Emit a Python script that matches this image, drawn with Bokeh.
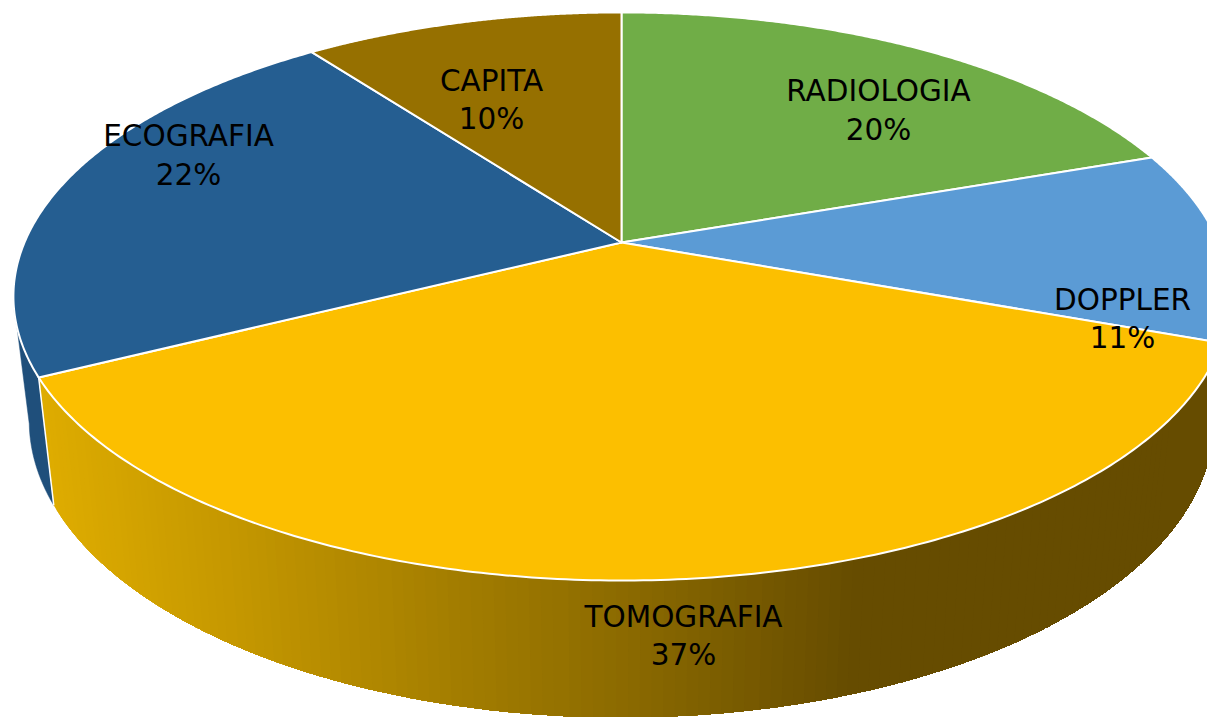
import numpy as np
from bokeh.plotting import figure
from bokeh.models import Range1d, ColumnDataSource
from bokeh.core.properties import value
from bokeh.embed import file_html
from bokeh.resources import INLINE

# Data, clockwise from twelve o'clock
categories = ["RADIOLOGIA", "DOPPLER", "TOMOGRAFIA", "ECOGRAFIA", "CAPITA"]
shares = [19.65, 10.92, 36.99, 22.24, 10.20]
top_colors = ["#70ad47", "#5b9bd5", "#fcbf00", "#255e91", "#967000"]
label_x = [878, 1122, 683, 188, 491]
label_y = [90, 299, 616, 135, 80]
percent_y = [129, 337, 654, 174, 118]

# Perspective of the tilted disc, in the picture's pixels
CX, CY = 621.0, 242.0
KX, KY, TILT = 597.0, 273.8, 0.19
WALL_SCALE_X = 0.974
WALL_OFFSET_Y, WALL_SCALE_Y = 111.4, 1.044
W, H = 1207, 717


def project(theta):
    xd, yd = np.sin(theta), np.cos(theta)
    d = 1 + TILT * yd
    return CX + KX * xd / d, CY - KY * yd / d


def project_low(theta):
    x, y = project(theta)
    return CX + (x - CX) * WALL_SCALE_X, WALL_OFFSET_Y + y * WALL_SCALE_Y


GRAD_X = [38, 200, 450, 620, 850, 1207]
GRAD_R = [222, 200, 163, 139, 102, 102]
GRAD_G = [172, 154, 125, 106, 76, 76]


def wall_color(x):
    return "#%02x%02x00" % (round(np.interp(x, GRAD_X, GRAD_R)), round(np.interp(x, GRAD_X, GRAD_G)))


edges = np.radians(np.concatenate([[0], np.cumsum(shares)]) * 3.6)

p = figure(width=W, height=H, output_backend="svg", toolbar_location=None,
           x_range=Range1d(0, W), y_range=Range1d(H, 0),
           min_border=0, outline_line_color=None, background_fill_color="white")
p.axis.visible = False
p.grid.visible = False

# Side wall of the Ecografia slice (visible up to the left tip)
eco = np.linspace(edges[3], np.radians(258.5), 40)
tx, ty = project(eco)
lx, ly = project_low(eco)
p.patch(np.r_[tx, lx[::-1]], np.r_[ty, ly[::-1]], fill_color="#1f4f7b", line_color="#1f4f7b", line_width=0.5)

# Side wall of the Tomografia slice: horizontal gradient, painted left to right,
# each band reaching to the far end of the wall so no seams can show
wall_angles = np.linspace(edges[3], edges[2] - np.radians(22), 500)
wx, wy = project(wall_angles)
wlx, wly = project_low(wall_angles)
n_bands = 125
band_starts = np.linspace(0, 380, n_bands).astype(int)
xs, ys, cs = [], [], []
for i in band_starts:
    xs.append(np.r_[wx[i:], wlx[i:][::-1]])
    ys.append(np.r_[wy[i:], wly[i:][::-1]])
    cs.append(wall_color(wx[i]))
p.patches(xs, ys, fill_color=cs, line_color=None)

# Seam between the two walls
sx, sy = project(edges[3]); lx0, ly0 = project_low(edges[3])
p.line([sx, lx0], [sy, ly0], line_color="white", line_width=1.5)

# Top of the disc
tx_list, ty_list = [], []
for a, b in zip(edges[:-1], edges[1:]):
    th = np.linspace(a, b, 200)
    x, y = project(th)
    tx_list.append(np.r_[CX, x, CX]); ty_list.append(np.r_[CY, y, CY])
p.patches(tx_list, ty_list, fill_color=top_colors, line_color="white", line_width=2, line_join="round")

# Labels
src = ColumnDataSource(dict(x=label_x, y=label_y, py=percent_y, name=categories,
                            pct=["%d%%" % round(s) for s in shares]))
font = value("DejaVu Sans")
p.text("x", "y", text="name", source=src, text_font=font, text_font_size="29.5px", text_color="black",
       text_align="center", text_baseline="middle")
p.text("x", "py", text="pct", source=src, text_font=font, text_font_size="29.5px", text_color="black",
       text_align="center", text_baseline="middle")

open("out.html", "w").write(file_html(p, INLINE))
